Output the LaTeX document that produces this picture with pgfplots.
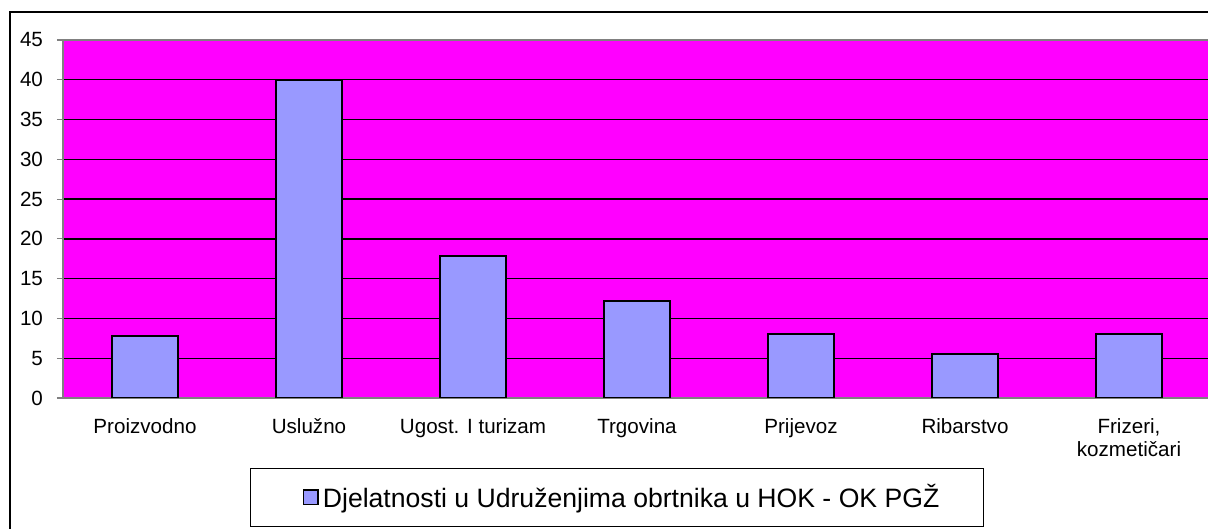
\documentclass[border=0pt]{standalone}
\usepackage{pgfplots}
\pgfplotsset{compat=1.18}
\usepackage{fontspec}
\setmainfont{Liberation Sans}
\definecolor{plotbg}{HTML}{FF00FF}
\definecolor{barfill}{HTML}{9999FF}
\definecolor{axgray}{HTML}{808080}
\newcommand{\vp}{\vphantom{Ž}}
\begin{document}
\begin{tikzpicture}[x=1pt,y=1pt]
\path[use as bounding box] (0,0) rectangle (604,264.5);
\draw[line width=0.8pt] (5,-5) -- (5,258.5) -- (620,258.5);
\begin{axis}[
  at={(31.5pt,65.5pt)}, anchor=south west,
  scale only axis, width=574pt, height=179pt,
  xmin=-0.5, xmax=6.5, ymin=0, ymax=45,
  ytick={0,5,...,45},
  xtick={0,...,6},
  xticklabels={\vp Proizvodno,\vp Uslužno,\vp Ugost. I turizam,\vp Trgovina,\vp Prijevoz,\vp Ribarstvo,{\vp Frizeri,\\kozmetičari}},
  xticklabel style={align=center, font=\fontsize{10.3}{11.5}\selectfont, yshift=-2.2pt},
  yticklabel style={font=\fontsize{10.3}{11.5}\selectfont, xshift=-3.5pt},
  /pgf/number format/assume math mode=true,
  xtick style={draw=none},
  minor xtick={-0.5,0.5,...,6.5},
  minor tick length=3.5pt,
  major tick length=3pt,
  tick align=outside,
  tick style={axgray, line width=0.6pt},
  axis line style={axgray, line width=0.8pt},
  ymajorgrids, grid style={black, line width=0.7pt},
  axis background/.style={fill=plotbg},
  ybar, bar width=32.8pt,
  legend style={at={(0.4826,-0.2779)}, anchor=center, draw=black, line width=0.5pt,
    font=\fontsize{13.3}{16}\selectfont, inner xsep=20pt, inner ysep=6pt},
  legend image code/.code={\path (-6pt,0pt); \draw[#1, line width=0.8pt] (0pt,-3.6pt) rectangle (7.2pt,3.6pt);},
]
\addplot[fill=barfill, draw=black, line width=1pt] coordinates {
  (0,7.8) (1,40) (2,17.9) (3,12.2) (4,8) (5,5.5) (6,8)
};
\addlegendentry{Djelatnosti u Udruženjima obrtnika u HOK - OK PGŽ}
\end{axis}
\end{tikzpicture}
\end{document}
